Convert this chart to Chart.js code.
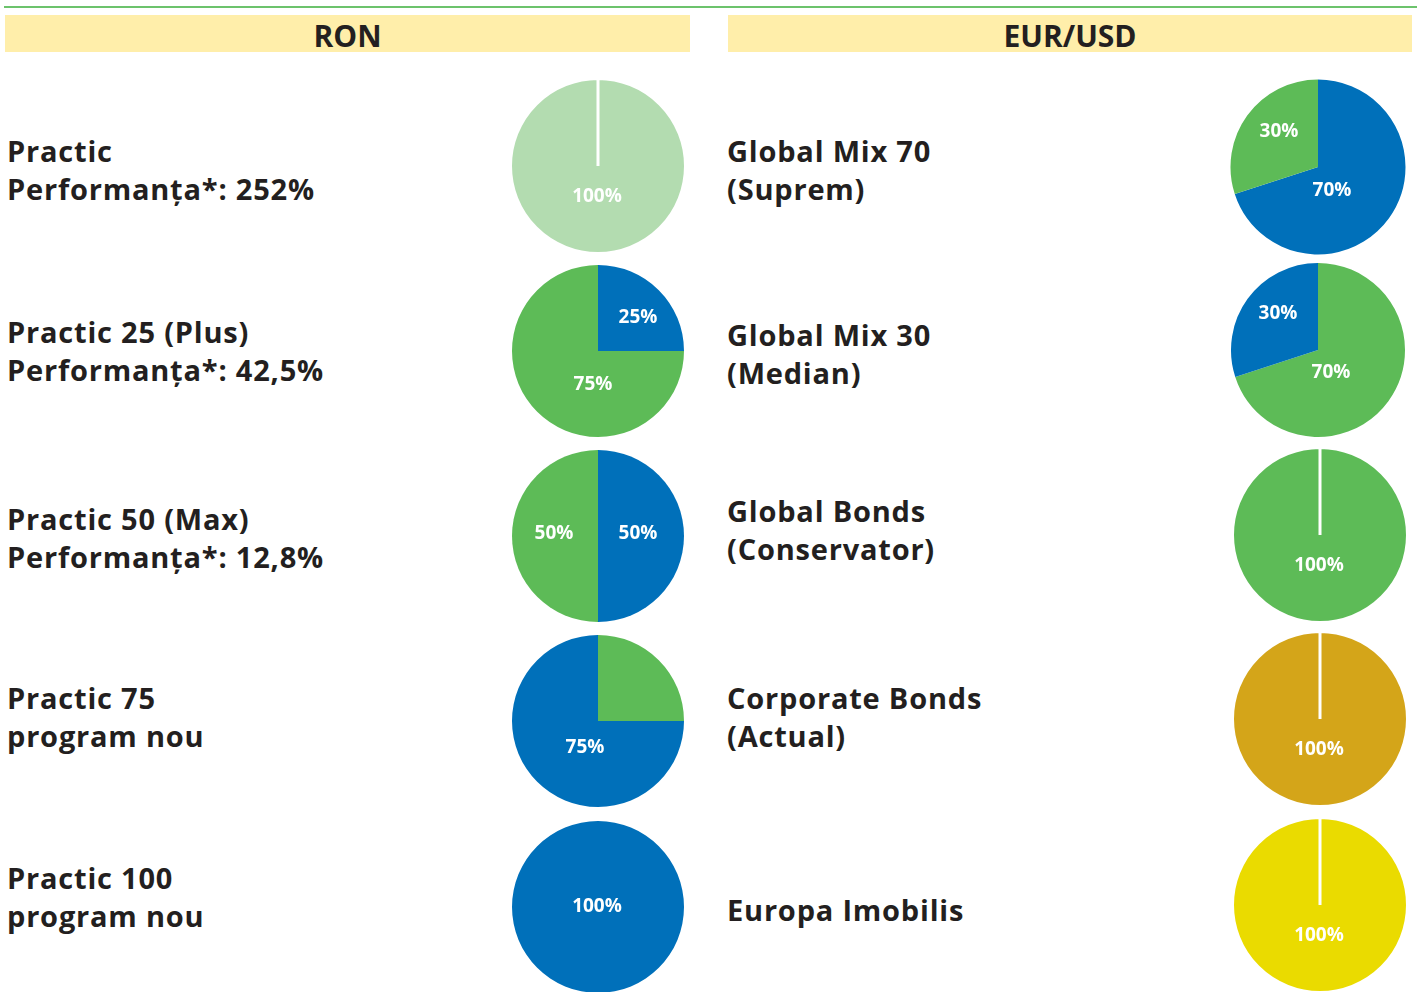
<!DOCTYPE html>
<html lang="ro">
<head>
<meta charset="UTF-8">
<title>Structura portofoliilor</title>
<style>
    html, body { margin: 0; padding: 0; background: #fff; }
    body { width: 1417px; height: 992px; overflow: hidden; position: relative;
           font-family: "Open Sans", "Noto Sans", sans-serif; color: #231f20; }
    .rule { position: absolute; left: 4px; top: 6px; width: 1413px; height: 2px; background: #6cc36c; }
    .head { position: absolute; top: 15px; height: 37px; background: #ffeeaa;
            font-weight: bold; font-size: 30px; line-height: 42px; text-align: center; }
    .name { position: absolute; font-weight: bold; font-size: 29px; line-height: 38px;
            letter-spacing: 0.8px; white-space: nowrap; }
    .pie { position: absolute; width: 190px; height: 190px; }
</style>
<script src="https://cdn.jsdelivr.net/npm/chart.js"></script>
</head>
<body>
<div class="rule"></div>
<div class="head" style="left:5px;width:685px">RON</div>
<div class="head" style="left:728px;width:684px">EUR/USD</div>

<script>
// date fonduri RON
const ronNames = [
    ['Practic', 'Performanța*: 252%'],
    ['Practic 25 (Plus)', 'Performanța*: 42,5%'],
    ['Practic 50 (Max)', 'Performanța*: 12,8%'],
    ['Practic 75', 'program nou'],
    ['Practic 100', 'program nou']
];
const ronValues = [[100], [25, 75], [50, 50], [25, 75], [100]];

// date fonduri EUR/USD
const eurNames = [
    ['Global Mix 70', '(Suprem)'],
    ['Global Mix 30', '(Median)'],
    ['Global Bonds', '(Conservator)'],
    ['Corporate Bonds', '(Actual)'],
    ['Europa Imobilis']
];
const eurValues = [[70, 30], [70, 30], [100], [100], [100]];

// culori felii
const LG = '#b3dcb0', GR = '#5dbb57', BL = '#0070ba', GD = '#d4a519', YL = '#eadb00';
const ronColors = [[LG], [BL, GR], [BL, GR], [GR, BL], [BL]];
const eurColors = [[BL, GR], [GR, BL], [GR], [GD], [YL]];

// asezare: centru pie, raza, varful textului, pozitia etichetelor (dx, dy fata de centru)
const ronLayout = [
    { cx: 598, cy: 166, r: 86, ty: 132, line: true,  lbl: [[-1, 31]] },
    { cx: 598, cy: 351, r: 86, ty: 313, line: false, lbl: [[40, -33], [-5, 34]] },
    { cx: 598, cy: 536, r: 86, ty: 500, line: false, lbl: [[40, -2], [-44, -2]] },
    { cx: 598, cy: 721, r: 86, ty: 679, line: false, lbl: [null, [-13, 27]] },
    { cx: 598, cy: 907, r: 86, ty: 859, line: false, lbl: [[-1, 0]] }
];
const eurLayout = [
    { cx: 1318, cy: 167, r: 87.5, ty: 132, line: false, lbl: [[14, 24], [-39, -35]] },
    { cx: 1318, cy: 350, r: 87,   ty: 316, line: false, lbl: [[13, 23], [-40, -36]] },
    { cx: 1320, cy: 535, r: 86,   ty: 492, line: true,  lbl: [[-1, 31]] },
    { cx: 1320, cy: 719, r: 86,   ty: 679, line: true,  lbl: [[-1, 31]] },
    { cx: 1320, cy: 905, r: 86,   ty: 891, line: true,  lbl: [[-1, 31]] }
];

const pctLabels = {
    id: 'pctLabels',
    afterDatasetsDraw(chart, args, opts) {
        const ctx = chart.ctx;
        const arcs = chart.getDatasetMeta(0).data;
        const vals = chart.data.datasets[0].data;
        ctx.save();
        ctx.fillStyle = '#fff';
        ctx.font = 'bold 19px "Open Sans", sans-serif';
        ctx.textAlign = 'center';
        ctx.textBaseline = 'middle';
        arcs.forEach((arc, i) => {
            const p = opts.pos[i];
            if (!p) return;
            ctx.fillText(vals[i] + '%', arc.x + p[0], arc.y + p[1]);
        });
        ctx.restore();
    }
};

function addFund(names, values, colors, lay, textX) {
    const t = document.createElement('div');
    t.className = 'name';
    t.style.left = textX + 'px';
    t.style.top = lay.ty + 'px';
    t.innerHTML = names.join('<br>');
    document.body.appendChild(t);

    const box = document.createElement('div');
    box.className = 'pie';
    box.style.left = (lay.cx - 95) + 'px';
    box.style.top = (lay.cy - 95) + 'px';
    const cv = document.createElement('canvas');
    box.appendChild(cv);
    document.body.appendChild(box);

    new Chart(cv, {
        type: 'pie',
        data: {
            labels: values.map(v => v + '%'),
            datasets: [{
                data: values,
                backgroundColor: colors,
                borderColor: '#fff',
                borderWidth: lay.line ? 3 : 0
            }]
        },
        options: {
            responsive: true,
            maintainAspectRatio: false,
            animation: false,
            radius: lay.line ? lay.r + 1.5 : lay.r,
            layout: { padding: 0 },
            plugins: {
                legend: { display: false },
                tooltip: { enabled: false },
                pctLabels: { pos: lay.lbl }
            }
        },
        plugins: [pctLabels]
    });
}

ronNames.forEach((n, i) => addFund(n, ronValues[i], ronColors[i], ronLayout[i], 7));
eurNames.forEach((n, i) => addFund(n, eurValues[i], eurColors[i], eurLayout[i], 727));
</script>
</body>
</html>
